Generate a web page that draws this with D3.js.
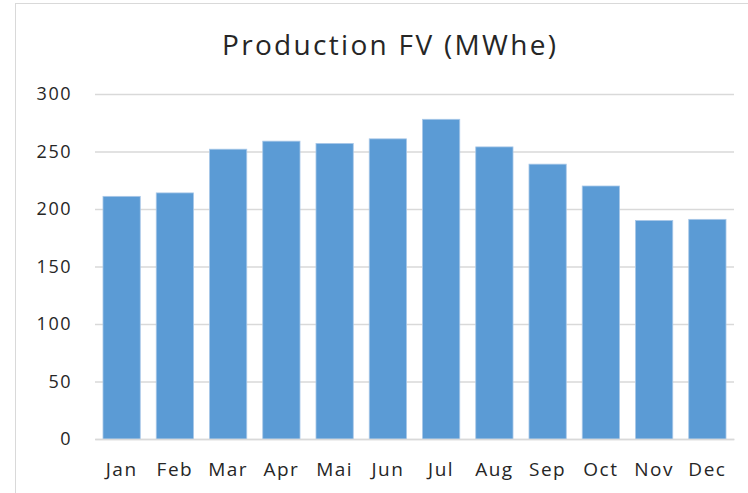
<!DOCTYPE html>
<html>
<head>
<meta charset="utf-8">
<script src="https://cdn.jsdelivr.net/npm/d3@7"></script>
<style>
  body { margin: 0; background: #fff; }
  svg text { font-family: "Open Sans", sans-serif; fill: #262626; }
</style>
</head>
<body>
<div id="chart"></div>
<script>
// data
var months = ["Jan", "Feb", "Mar", "Apr", "Mai", "Jun", "Jul", "Aug", "Sep", "Oct", "Nov", "Dec"];
var production = [211, 214, 252, 259, 257, 261, 278, 254, 239, 220, 190, 191];
var yTicks = [0, 50, 100, 150, 200, 250, 300];

var W = 748, H = 493;
var margin = {top: 94, right: 14, bottom: 54, left: 95},
    width = W - margin.left - margin.right,
    height = H - margin.top - margin.bottom;

var root = d3.select("#chart")
    .append("svg")
    .attr("width", W)
    .attr("height", H);

// chart border
root.append("rect")
    .attr("x", 15.5)
    .attr("y", 3.5)
    .attr("width", W + 10)
    .attr("height", H + 10)
    .attr("fill", "none")
    .attr("stroke", "#d9d9d9")
    .attr("stroke-width", 1);

root.append("text")
    .attr("x", 389)
    .attr("y", 55)
    .attr("text-anchor", "middle")
    .attr("textLength", 334)
    .attr("lengthAdjust", "spacing")
    .style("font-size", "28px")
    .text("Production FV (MWhe)");

var svg = root.append("g")
    .attr("transform", "translate(" + margin.left + "," + margin.top + ")");

var x = d3.scaleBand()
    .domain(months)
    .range([0, width])
    .paddingInner(0.3)
    .paddingOuter(0.15);

var y = d3.scaleLinear()
    .domain([0, 300])
    .range([height, 0]);

// gridlines
var yAxis = svg.append("g")
    .call(d3.axisLeft(y).tickValues(yTicks).tickSize(-width).tickPadding(23));
yAxis.select(".domain").remove();
yAxis.selectAll(".tick line")
    .attr("stroke", "#d9d9d9")
    .attr("stroke-width", 1.5);
yAxis.selectAll(".tick text")
    .style("font-size", "18px")
    .style("letter-spacing", "1.5px")
    .attr("fill", "#262626");

svg.append("g")
    .selectAll("rect")
    .data(production)
    .enter()
    .append("rect")
    .attr("x", function (d, i) { return x(months[i]); })
    .attr("y", function (d) { return y(d); })
    .attr("width", x.bandwidth())
    .attr("height", function (d) { return height - y(d); })
    .attr("fill", "#5b9bd5")
    .attr("stroke", "#a9c8e8")
    .attr("stroke-width", 0.8);

var xAxis = svg.append("g")
    .attr("transform", "translate(0," + height + ")")
    .call(d3.axisBottom(x).tickSize(0).tickPadding(24));
xAxis.select(".domain")
    .attr("stroke", "#d9d9d9")
    .attr("stroke-width", 1.5);
xAxis.selectAll(".tick text")
    .style("font-size", "19px")
    .style("letter-spacing", "1.5px")
    .attr("fill", "#262626");
</script>
</body>
</html>
